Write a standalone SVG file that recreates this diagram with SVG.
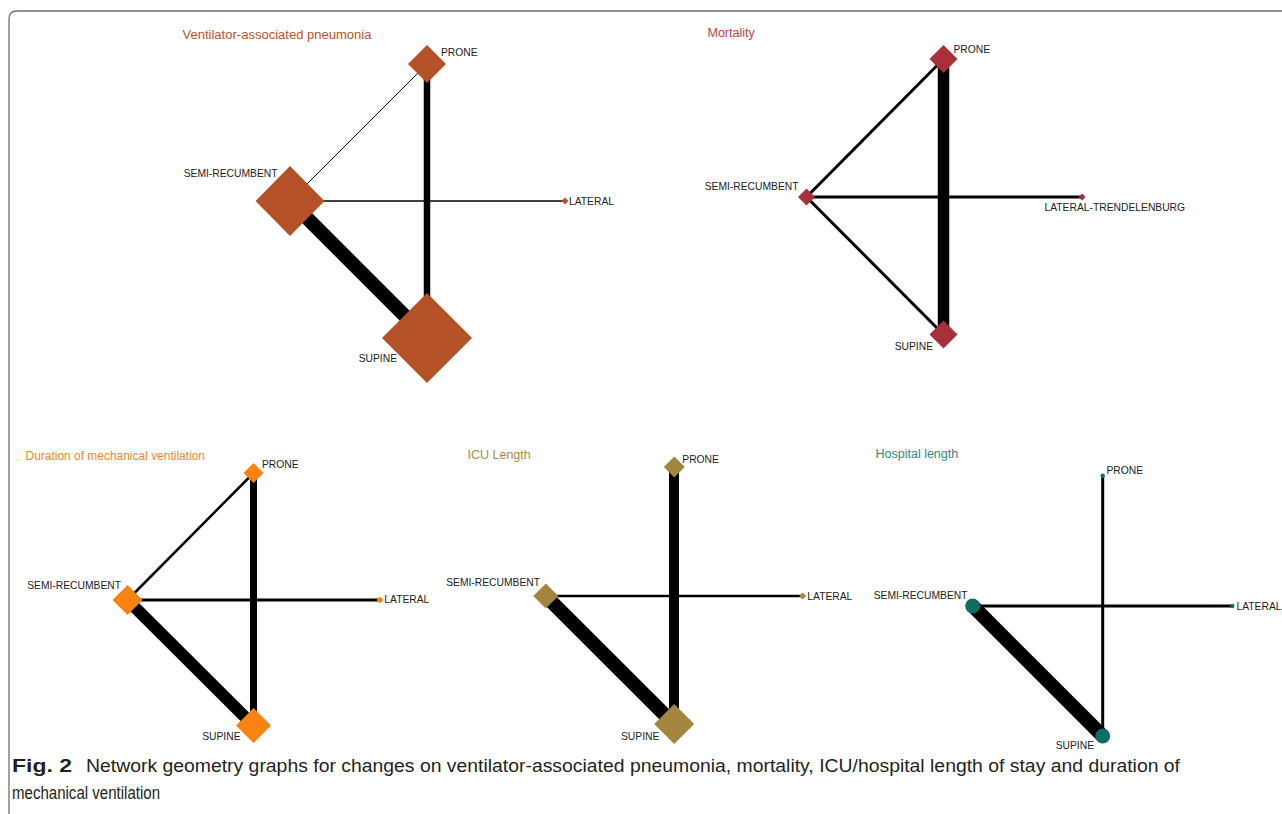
<svg xmlns="http://www.w3.org/2000/svg" width="1282" height="814" viewBox="0 0 1282 814">
<style>
.lbl{font-family:"Liberation Sans",Arial,sans-serif;font-size:10.3px;fill:#222}
.ttl{font-family:"Liberation Sans",Arial,sans-serif;font-size:12.5px}
.e{stroke:#000;fill:none;stroke-linecap:butt}
.cap{font-family:"Liberation Sans Narrow","Liberation Sans",Arial,sans-serif;font-size:17.5px;fill:#231f20}
.vap{fill:#b45127}.mor{fill:#a8303a}.dur{fill:#fa8210}.icu{fill:#a2863e}.hos{fill:#0f6e62}
</style>
<rect width="1282" height="814" fill="#fff"/>
<path d="M9 814 V19 Q9 11 17 11 H1282" fill="none" stroke="#707070" stroke-width="1.3"/>

<!-- Panel 1: VAP -->
<g id="panel-vap">
<text class="ttl" x="182.5" y="39" fill="#b5532b" textLength="189" lengthAdjust="spacingAndGlyphs">Ventilator-associated pneumonia</text>
<g id="vap-edges">
<line class="e" x1="290" y1="201" x2="427" y2="64" stroke-width="1"/>
<line class="e" x1="290" y1="201" x2="565" y2="201" stroke-width="1.5"/>
<line class="e" x1="427" y1="64" x2="427" y2="338" stroke-width="6.5"/>
<line class="e" x1="290" y1="201" x2="427" y2="338" stroke-width="14"/>
</g>
<g id="vap-prone"><polygon class="vap" points="427,45 446,64 427,83 408,64"/><text class="lbl" x="441" y="56">PRONE</text></g>
<g id="vap-semi"><polygon class="vap" points="290,166 324.5,201 290,236 255.5,201"/><text class="lbl" x="277.5" y="177" text-anchor="end">SEMI-RECUMBENT</text></g>
<g id="vap-supine"><polygon class="vap" points="427,293 472,338 427,383 382,338"/><text class="lbl" x="397" y="362" text-anchor="end">SUPINE</text></g>
<g id="vap-lateral"><polygon class="vap" points="565,197.5 568.5,201 565,204.5 561.5,201"/><text class="lbl" x="569" y="204.5">LATERAL</text></g>
</g>

<!-- Panel 2: Mortality -->
<g id="panel-mortality">
<text class="ttl" x="707.5" y="37" fill="#b83f48">Mortality</text>
<g id="mor-edges">
<line class="e" x1="806.5" y1="197" x2="943.5" y2="59" stroke-width="3"/>
<line class="e" x1="806.5" y1="197" x2="943.5" y2="334.5" stroke-width="3"/>
<line class="e" x1="806.5" y1="197" x2="1082" y2="197" stroke-width="3"/>
<line class="e" x1="943.5" y1="59" x2="943.5" y2="334.5" stroke-width="11.5"/>
</g>
<g id="mor-prone"><polygon class="mor" points="943.5,45 957.5,59 943.5,73 929.5,59"/><text class="lbl" x="953.5" y="52.5">PRONE</text></g>
<g id="mor-semi"><polygon class="mor" points="806.5,188.5 815,197 806.5,205.5 798,197"/><text class="lbl" x="798.5" y="190" text-anchor="end">SEMI-RECUMBENT</text></g>
<g id="mor-supine"><polygon class="mor" points="943.5,320.5 957.5,334.5 943.5,348.5 929.5,334.5"/><text class="lbl" x="933" y="350" text-anchor="end">SUPINE</text></g>
<g id="mor-lateral"><polygon class="mor" points="1082,193.5 1085.5,197 1082,200.5 1078.5,197"/><text class="lbl" x="1044.5" y="211">LATERAL-TRENDELENBURG</text></g>
</g>

<!-- Panel 3: Duration -->
<g id="panel-duration">
<text class="ttl" x="25.5" y="460" fill="#f5861e" textLength="179.5" lengthAdjust="spacingAndGlyphs">Duration of mechanical ventilation</text>
<g id="dur-edges">
<line class="e" x1="127.5" y1="600" x2="253.5" y2="473" stroke-width="2.5"/>
<line class="e" x1="127.5" y1="600" x2="380" y2="600" stroke-width="3"/>
<line class="e" x1="253.5" y1="473" x2="253.5" y2="725.5" stroke-width="7"/>
<line class="e" x1="127.5" y1="600" x2="253.5" y2="725.5" stroke-width="12"/>
</g>
<g id="dur-prone"><polygon class="dur" points="253.5,463 263.5,473 253.5,483 243.5,473"/><text class="lbl" x="262" y="468">PRONE</text></g>
<g id="dur-semi"><polygon class="dur" points="127.5,585 142.5,600 127.5,615 112.5,600"/><text class="lbl" x="121" y="589" text-anchor="end">SEMI-RECUMBENT</text></g>
<g id="dur-supine"><polygon class="dur" points="253.5,708 271,725.5 253.5,743 236,725.5"/><text class="lbl" x="240.5" y="739.5" text-anchor="end">SUPINE</text></g>
<g id="dur-lateral"><polygon class="dur" points="380,596.5 383.5,600 380,603.5 376.5,600"/><text class="lbl" x="384.3" y="603">LATERAL</text></g>
</g>

<!-- Panel 4: ICU -->
<g id="panel-icu">
<text class="ttl" x="467.5" y="459" fill="#a88a42">ICU Length</text>
<g id="icu-edges">
<line class="e" x1="545.8" y1="596" x2="802.7" y2="596" stroke-width="2.5"/>
<line class="e" x1="674" y1="467" x2="674" y2="724" stroke-width="10"/>
<line class="e" x1="545.8" y1="596" x2="674" y2="724" stroke-width="14"/>
</g>
<g id="icu-prone"><polygon class="icu" points="674.3,456.5 684.8,467 674.3,477.5 663.8,467"/><text class="lbl" x="682.3" y="462.5">PRONE</text></g>
<g id="icu-semi"><polygon class="icu" points="545.8,583.5 558.3,596 545.8,608.5 533.3,596"/><text class="lbl" x="540" y="586" text-anchor="end">SEMI-RECUMBENT</text></g>
<g id="icu-supine"><polygon class="icu" points="674.2,704 694.2,724 674.2,744 654.2,724"/><text class="lbl" x="659.3" y="739.5" text-anchor="end">SUPINE</text></g>
<g id="icu-lateral"><polygon class="icu" points="802.7,592.5 806.2,596 802.7,599.5 799.2,596"/><text class="lbl" x="807.3" y="599.5">LATERAL</text></g>
</g>

<!-- Panel 5: Hospital -->
<g id="panel-hospital">
<text class="ttl" x="875.5" y="457.5" fill="#2a8c80">Hospital length</text>
<g id="hos-edges">
<line class="e" x1="1102.7" y1="475.7" x2="1102.7" y2="736" stroke-width="3"/>
<line class="e" x1="972.7" y1="606" x2="1232.3" y2="606" stroke-width="3"/>
<line class="e" x1="972.7" y1="606" x2="1102.7" y2="736" stroke-width="14"/>
</g>
<g id="hos-prone"><circle class="hos" cx="1102.7" cy="475.7" r="2.2"/><text class="lbl" x="1106.5" y="473.5">PRONE</text></g>
<g id="hos-semi"><circle class="hos" cx="972.7" cy="606" r="7.5"/><text class="lbl" x="967.5" y="598.5" text-anchor="end">SEMI-RECUMBENT</text></g>
<g id="hos-supine"><circle class="hos" cx="1102.7" cy="736" r="7.5"/><text class="lbl" x="1094" y="748.5" text-anchor="end">SUPINE</text></g>
<g id="hos-lateral"><circle class="hos" cx="1232.3" cy="606" r="2.2"/><text class="lbl" x="1236.5" y="609.5">LATERAL</text></g>
</g>

<!-- Caption -->
<g id="caption">
<text class="cap" x="12" y="772" font-weight="bold" textLength="60" lengthAdjust="spacingAndGlyphs">Fig. 2</text>
<text class="cap" x="86" y="772" textLength="1094" lengthAdjust="spacingAndGlyphs">Network geometry graphs for changes on ventilator-associated pneumonia, mortality, ICU/hospital length of stay and duration of</text>
<text class="cap" x="12" y="799" textLength="148" lengthAdjust="spacingAndGlyphs">mechanical ventilation</text>
</g>
</svg>
